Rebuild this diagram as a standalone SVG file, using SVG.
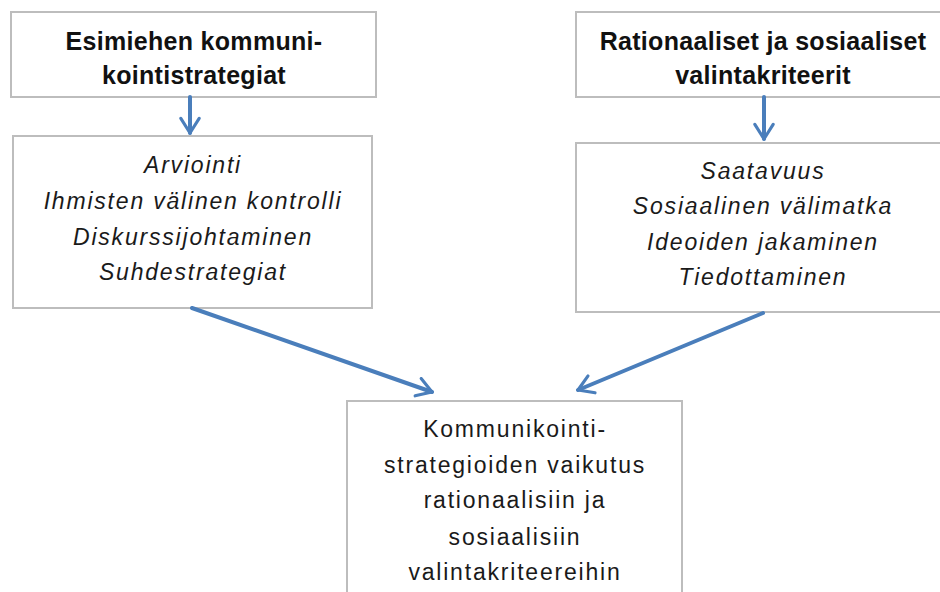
<svg xmlns="http://www.w3.org/2000/svg" width="940" height="592" viewBox="0 0 940 592">
<defs>
<style>
.box{fill:#fff;stroke:#BDBDBD;stroke-width:2}
.t{font-family:"Liberation Sans",Arial,sans-serif;fill:#111;text-anchor:middle}
.b{font-weight:bold;font-size:25px;letter-spacing:0.3px}
.i{font-style:italic;font-size:23px;letter-spacing:1.8px;fill:#1a1a1a}
.n{font-size:23px;letter-spacing:1.8px;fill:#1a1a1a}
.c{stroke:#4A7EBB;stroke-width:4;fill:none;stroke-linecap:round;stroke-linejoin:round}
</style>
<marker id="ah" viewBox="0 0 12 12" refX="10" refY="6" markerWidth="5.5" markerHeight="5.5" orient="auto" markerUnits="strokeWidth">
<path d="M2,1 L10,6 L2,11" fill="none" stroke="#4A7EBB" stroke-width="1.7" stroke-linecap="round" stroke-linejoin="round"/>
</marker>
</defs>
<rect width="940" height="592" fill="#fff"/>
<g id="n1">
<rect class="box" x="11" y="12" width="365" height="85"/>
<text class="t b" x="194" y="50">Esimiehen kommuni-</text>
<text class="t b" x="194" y="84">kointistrategiat</text>
</g>
<g id="n2">
<rect class="box" x="13" y="136" width="359" height="172"/>
<text class="t i" x="193" y="173">Arviointi</text>
<text class="t i" x="193" y="209">Ihmisten välinen kontrolli</text>
<text class="t i" x="193" y="245">Diskurssijohtaminen</text>
<text class="t i" x="193" y="280">Suhdestrategiat</text>
</g>
<g id="n3">
<rect class="box" x="576" y="12" width="376" height="85"/>
<text class="t b" x="763" y="50">Rationaaliset ja sosiaaliset</text>
<text class="t b" x="763" y="84">valintakriteerit</text>
</g>
<g id="n4">
<rect class="box" x="576" y="143" width="376" height="169"/>
<text class="t i" x="763" y="179">Saatavuus</text>
<text class="t i" x="763" y="214">Sosiaalinen välimatka</text>
<text class="t i" x="763" y="250">Ideoiden jakaminen</text>
<text class="t i" x="763" y="285">Tiedottaminen</text>
</g>
<g id="n5">
<rect class="box" x="347" y="401" width="335" height="200"/>
<text class="t n" x="515" y="437">Kommunikointi-</text>
<text class="t n" x="515" y="473">strategioiden vaikutus</text>
<text class="t n" x="515" y="508">rationaalisiin ja</text>
<text class="t n" x="515" y="545">sosiaalisiin</text>
<text class="t n" x="515" y="580">valintakriteereihin</text>
</g>
<g id="connectors">
<line class="c" x1="190" y1="97" x2="190" y2="133" marker-end="url(#ah)"/>
<line class="c" x1="764" y1="97" x2="764" y2="139" marker-end="url(#ah)"/>
<line class="c" x1="192" y1="308" x2="432" y2="392" marker-end="url(#ah)"/>
<line class="c" x1="763" y1="313" x2="578" y2="390" marker-end="url(#ah)"/>
</g>
</svg>
